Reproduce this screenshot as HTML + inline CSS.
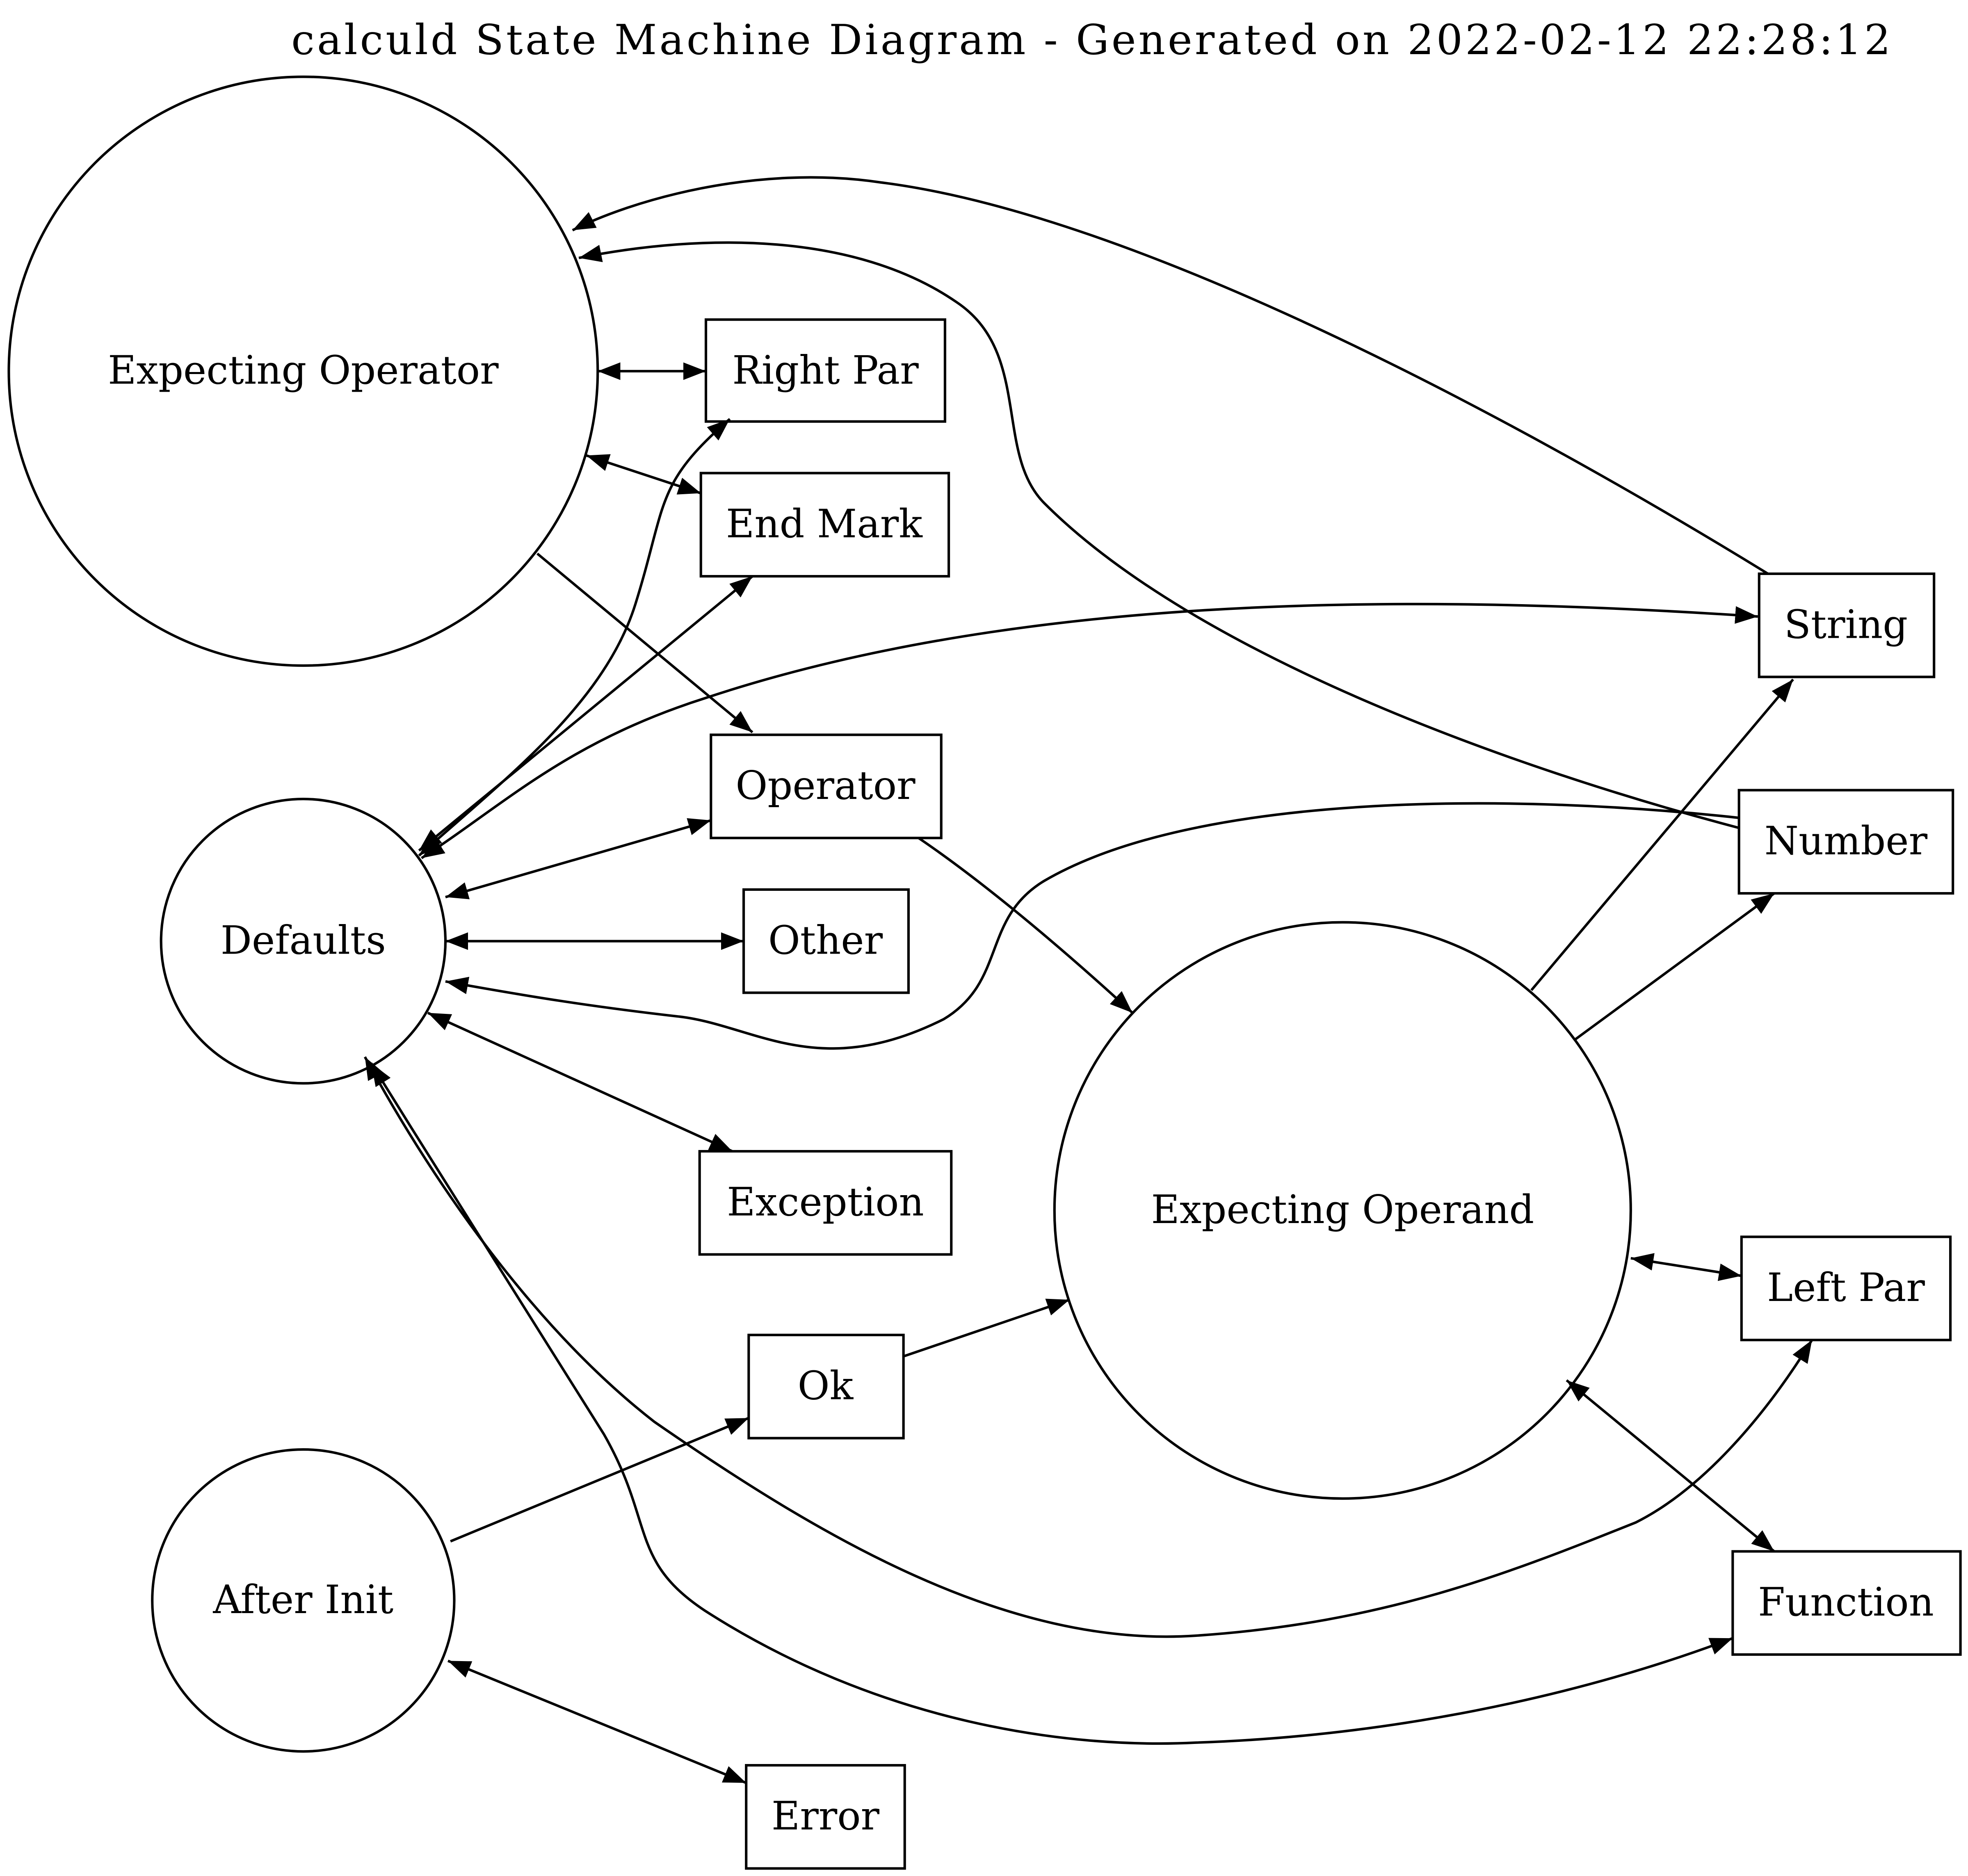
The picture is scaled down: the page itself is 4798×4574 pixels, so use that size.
<!DOCTYPE html>
<html><head><meta charset="utf-8"><style>html,body{margin:0;padding:0;background:#fff}svg{display:block}</style></head>
<body>
<svg xmlns="http://www.w3.org/2000/svg" width="4798" height="4574" viewBox="0 0 1564 1491" preserveAspectRatio="none">
<defs>
<marker id="a" markerUnits="userSpaceOnUse" markerWidth="20" markerHeight="14" refX="18" refY="7" orient="auto-start-reverse">
<path d="M0,0 L18,7 L0,14 Z" fill="#000"/></marker>
</defs>
<rect width="1564" height="1491" fill="#fff"/>
<g font-family="'DejaVu Serif', serif" font-size="33" text-anchor="middle" fill="#000">
<text x="867" y="43" textLength="1271" lengthAdjust="spacing">calculd State Machine Diagram - Generated on 2022-02-12 22:28:12</text>
</g>
<g fill="none" stroke="#000" stroke-width="2">
<circle cx="241" cy="295" r="234"/>
<circle cx="241" cy="748" r="113"/>
<circle cx="241" cy="1272" r="120"/>
<circle cx="1067" cy="962" r="229"/>
<rect x="561" y="254" width="190" height="81"/>
<rect x="557" y="376" width="197" height="82"/>
<rect x="565" y="584" width="183" height="82"/>
<rect x="591" y="707" width="131" height="82"/>
<rect x="556" y="915" width="200" height="82"/>
<rect x="595" y="1061" width="123" height="82"/>
<rect x="593" y="1403" width="126" height="82"/>
<rect x="1398" y="456" width="139" height="82"/>
<rect x="1382" y="628" width="170" height="82"/>
<rect x="1384" y="983" width="166" height="82"/>
<rect x="1377" y="1233" width="181" height="82"/>
</g>
<g fill="none" stroke="#000" stroke-width="2">
<path d="M1405,456 C1200,330 900,170 700,145 C600,130 500,160 455,183" marker-end="url(#a)"/>
<path d="M1382,658 C1200,610 950,520 830,400 C790,360 820,280 760,240 C680,185 560,185 460,205" marker-end="url(#a)"/>
<path d="M475,295 L561,295" marker-start="url(#a)" marker-end="url(#a)"/>
<path d="M466,362 L557,392" marker-start="url(#a)" marker-end="url(#a)"/>
<path d="M427,440 L598,582" marker-end="url(#a)"/>
<path d="M333,680 C400,620 480,560 505,480 C530,400 520,385 580,333" marker-start="url(#a)" marker-end="url(#a)"/>
<path d="M333,676 L598,458" marker-start="url(#a)" marker-end="url(#a)"/>
<path d="M335,682 C400,640 450,590 560,555 C800,475 1100,470 1397,490" marker-start="url(#a)" marker-end="url(#a)"/>
<path d="M354,713 L565,652" marker-start="url(#a)" marker-end="url(#a)"/>
<path d="M354,748 L591,748" marker-start="url(#a)" marker-end="url(#a)"/>
<path d="M1382,650 C1200,630 950,630 830,700 C780,730 800,780 750,810 C650,860 600,815 540,808 C470,800 420,792 354,780" marker-end="url(#a)"/>
<path d="M340,805 L582,915" marker-start="url(#a)" marker-end="url(#a)"/>
<path d="M290,840 C350,950 430,1060 520,1130 C650,1220 800,1310 950,1300 C1100,1290 1200,1250 1300,1210 C1350,1185 1400,1130 1440,1065" marker-start="url(#a)" marker-end="url(#a)"/>
<path d="M295,845 C360,950 430,1060 480,1140 C520,1210 500,1240 560,1280 C700,1370 850,1390 950,1385 C1100,1380 1250,1350 1377,1302" marker-start="url(#a)" marker-end="url(#a)"/>
<path d="M730,666 C780,700 840,750 900,805" marker-end="url(#a)"/>
<path d="M718,1078 L850,1033" marker-end="url(#a)"/>
<path d="M358,1225 L595,1127" marker-end="url(#a)"/>
<path d="M356,1320 L593,1417" marker-start="url(#a)" marker-end="url(#a)"/>
<path d="M1217,787 L1425,540" marker-end="url(#a)"/>
<path d="M1252,826 L1410,710" marker-end="url(#a)"/>
<path d="M1296,1000 L1384,1014" marker-start="url(#a)" marker-end="url(#a)"/>
<path d="M1245,1097 L1410,1233" marker-start="url(#a)" marker-end="url(#a)"/>
</g>
<g font-family="'DejaVu Serif', serif" font-size="31" text-anchor="middle" fill="#000">
<text x="241" y="305">Expecting Operator</text>
<text x="241" y="758">Defaults</text>
<text x="241" y="1282">After Init</text>
<text x="1067" y="972">Expecting Operand</text>
<text x="656" y="305">Right Par</text>
<text x="655" y="427">End Mark</text>
<text x="656" y="635">Operator</text>
<text x="656" y="758">Other</text>
<text x="656" y="966">Exception</text>
<text x="656" y="1112">Ok</text>
<text x="656" y="1454">Error</text>
<text x="1467" y="507">String</text>
<text x="1467" y="679">Number</text>
<text x="1467" y="1034">Left Par</text>
<text x="1467" y="1284">Function</text>
</g>
</svg>
</body></html>
